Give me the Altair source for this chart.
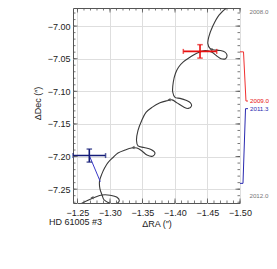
import altair as alt
import pandas as pd

# ---- data ----
track_ra = [-1.4992, -1.4823, -1.4677, -1.4577, -1.4520, -1.4505, -1.4538, -1.4585, -1.4692, -1.4769,
            -1.4800, -1.4777, -1.4708, -1.4638, -1.4569, -1.4462, -1.4334, -1.4231, -1.4128, -1.4054,
            -1.4008, -1.3974, -1.3965, -1.4000, -1.4077, -1.4169, -1.4238, -1.4254, -1.4205, -1.4128,
            -1.4031, -1.3954, -1.3872, -1.3769, -1.3646, -1.3554, -1.3488, -1.3431, -1.3408, -1.3431,
            -1.3523, -1.3631, -1.3692, -1.3654, -1.3569, -1.3492, -1.3415, -1.3331, -1.3231, -1.3123,
            -1.3051, -1.2969, -1.2923, -1.2877, -1.2840, -1.2845, -1.2877, -1.2908, -1.3000, -1.3092,
            -1.3143, -1.3108, -1.3000, -1.2877, -1.2769, -1.2662, -1.2554, -1.2485]
track_dec = [-6.9631, -6.9703, -6.9831, -7.0011, -7.0165, -7.0266, -7.0343, -7.0362, -7.0374, -7.0400,
             -7.0446, -7.0500, -7.0500, -7.0454, -7.0400, -7.0377, -7.0415, -7.0477, -7.0549, -7.0631,
             -7.0723, -7.0857, -7.1011, -7.1092, -7.1108, -7.1138, -7.1177, -7.1223, -7.1262, -7.1238,
             -7.1177, -7.1131, -7.1146, -7.1177, -7.1246, -7.1323, -7.1446, -7.1600, -7.1754, -7.1838,
             -7.1862, -7.1892, -7.1946, -7.1995, -7.1977, -7.1915, -7.1869, -7.1869, -7.1900, -7.1946,
             -7.2011, -7.2092, -7.2165, -7.2262, -7.2369, -7.2492, -7.2585, -7.2662, -7.2715, -7.2723,
             -7.2677, -7.2623, -7.2592, -7.2589, -7.2623, -7.2669, -7.2723, -7.2762]

arrow_ra = [-1.4554, -1.3908, -1.3354, -1.2723]
arrow_dec = [-7.0362, -7.1128, -7.1862, -7.2630]

obs_epoch = ["2009.0", "2011.3"]
obs_ra = [-1.4385, -1.2682]
obs_dec = [-7.0388, -7.1985]
obs_ra_err = [0.0257, 0.0250]
obs_dec_err = [0.0103, 0.0100]
obs_color = ["#e81010", "#141c78"]

# model position at 2011.3 linked to the blue measurement
link_ra = [-1.2682, -1.2851]
link_dec = [-7.1985, -7.2385]

# epoch annotations on the right
conn_red_ra = [-1.5000, -1.5054, -1.5092, -1.5123]
conn_red_dec = [-7.0395, -7.0395, -7.1149, -7.1149]
conn_blue_ra = [-1.5000, -1.5046, -1.5085, -1.5123]
conn_blue_dec = [-7.2411, -7.2411, -7.1266, -7.1266]

epoch_text = ["2008.0", "2009.0", "2011.3", "2012.0"]
epoch_ra = [-1.5146, -1.5154, -1.5154, -1.5146]
epoch_dec = [-6.9723, -7.1149, -7.1266, -7.2600]
epoch_base = ["top", "middle", "middle", "middle"]
epoch_color = ["#777777", "#e81010", "#2a2ab0", "#777777"]

x_major = [-1.25, -1.30, -1.35, -1.40, -1.45, -1.50]
y_major = [-7.00, -7.05, -7.10, -7.15, -7.20, -7.25]
x_minor = [round(-1.25 - 0.01 * i, 2) for i in range(26)]
y_minor = [round(-6.98 - 0.01 * i, 2) for i in range(30)]

W, H = 167, 195
FONT = "Liberation Sans"
xs = alt.Scale(domain=[-1.50, -1.2431], reverse=True, nice=False, zero=False)
ys = alt.Scale(domain=[-7.2712, -6.9723], nice=False, zero=False)

ax_x = alt.Axis(
    values=x_major, format=".2f", title="ΔRA (″)", grid=True, gridColor="#dedede",
    ticks=False, domain=False, labelFontSize=9, labelPadding=5, labelColor="#222",
    labelFont=FONT, titleFont=FONT, titleFontSize=9, titleFontWeight="normal",
    titleColor="#222", titlePadding=2, labelFlush=False)
ax_y = alt.Axis(
    values=y_major, format=".2f", title="ΔDec (″)", grid=True, gridColor="#dedede",
    ticks=False, domain=False, labelFontSize=9, labelPadding=3, labelColor="#222",
    labelFont=FONT, titleFont=FONT, titleFontSize=9, titleFontWeight="normal",
    titleColor="#222", titleX=-36, titleY=95, titleAlign="center",
    titleBaseline="middle", labelFlush=False)


def X(f):
    return alt.X(f, scale=xs, axis=ax_x)


def Y(f):
    return alt.Y(f, scale=ys, axis=ax_y)


track = pd.DataFrame({"ra": track_ra, "dec": track_dec, "i": list(range(len(track_ra)))})

base = alt.Chart(track).mark_line(
    color="#3a3a3a", strokeWidth=1.1, interpolate="catmull-rom", clip=True
).encode(x=X("ra:Q"), y=Y("dec:Q"), order="i:Q")

arrows = alt.Chart(pd.DataFrame({"ra": arrow_ra, "dec": arrow_dec})).mark_point(
    shape="triangle-left", filled=True, size=12, color="#555555", opacity=1, clip=True
).encode(x=X("ra:Q"), y=Y("dec:Q"))

obs = pd.DataFrame({
    "ep": obs_epoch, "ra": obs_ra, "dec": obs_dec,
    "ralo": [a - e for a, e in zip(obs_ra, obs_ra_err)],
    "rahi": [a + e for a, e in zip(obs_ra, obs_ra_err)],
    "declo": [d - e for d, e in zip(obs_dec, obs_dec_err)],
    "dechi": [d + e for d, e in zip(obs_dec, obs_dec_err)],
    "c": obs_color,
})
col = alt.Color("c:N", scale=None)

link = alt.Chart(pd.DataFrame({"ra": link_ra, "dec": link_dec})).mark_line(
    color="#3a3ac8", strokeWidth=1
).encode(x=X("ra:Q"), y=Y("dec:Q"))

hbar = alt.Chart(obs).mark_rule(strokeWidth=1.6).encode(
    x=X("ralo:Q"), x2="rahi:Q", y=Y("dec:Q"), color=col)
vbar = alt.Chart(obs).mark_rule(strokeWidth=1.6).encode(
    x=X("ra:Q"), y=Y("declo:Q"), y2="dechi:Q", color=col)
hcap_lo = alt.Chart(obs).mark_tick(orient="vertical", size=5, thickness=1.5).encode(
    x=X("ralo:Q"), y=Y("dec:Q"), color=col)
hcap_hi = alt.Chart(obs).mark_tick(orient="vertical", size=5, thickness=1.5).encode(
    x=X("rahi:Q"), y=Y("dec:Q"), color=col)
vcap_lo = alt.Chart(obs).mark_tick(orient="horizontal", size=5.5, thickness=1.5).encode(
    x=X("ra:Q"), y=Y("declo:Q"), color=col)
vcap_hi = alt.Chart(obs).mark_tick(orient="horizontal", size=5.5, thickness=1.5).encode(
    x=X("ra:Q"), y=Y("dechi:Q"), color=col)

conn = pd.DataFrame({
    "ra": conn_red_ra + conn_blue_ra,
    "dec": conn_red_dec + conn_blue_dec,
    "g": ["r"] * 4 + ["b"] * 4,
    "o": list(range(4)) * 2,
    "c": ["#f03030"] * 4 + ["#2a2ab0"] * 4,
})
connectors = alt.Chart(conn).mark_line(strokeWidth=1).encode(
    x=X("ra:Q"), y=Y("dec:Q"), detail="g:N", order="o:Q", color=col)

lab_df = pd.DataFrame({"ra": epoch_ra, "dec": epoch_dec, "t": epoch_text,
                       "c": epoch_color, "b": epoch_base})
labels_top = alt.Chart(lab_df[lab_df.b == "top"]).mark_text(
    align="left", baseline="top", fontSize=6.2, font=FONT, dy=1
).encode(x=X("ra:Q"), y=Y("dec:Q"), text="t:N", color=col)
labels_mid = alt.Chart(lab_df[lab_df.b == "middle"]).mark_text(
    align="left", baseline="middle", fontSize=6.2, font=FONT
).encode(x=X("ra:Q"), y=Y("dec:Q"), text="t:N", color=col)


def tick_layer(vals, channel, length, side):
    df = pd.DataFrame({"v": vals})
    m = alt.Chart(df).mark_rule(color="#555555", strokeWidth=0.8)
    if channel == "x":
        y0, y1 = (H, H - length) if side == "bottom" else (0, length)
        return m.encode(x=X("v:Q"), y=alt.value(y0), y2=alt.value(y1))
    x0, x1 = (0, length) if side == "left" else (W, W - length)
    return m.encode(y=Y("v:Q"), x=alt.value(x0), x2=alt.value(x1))


ticks = []
for side in ["bottom", "top"]:
    ticks.append(tick_layer(x_minor, "x", 2.5, side))
    ticks.append(tick_layer(x_major, "x", 4.5, side))
for side in ["left", "right"]:
    ticks.append(tick_layer(y_minor, "y", 2.5, side))
    ticks.append(tick_layer(y_major, "y", 4.5, side))

caption = alt.Chart(pd.DataFrame({"t": ["HD 61005 #3"]})).mark_text(
    align="left", baseline="middle", fontSize=9, font=FONT, color="#222"
).encode(text="t:N", x=alt.value(-24), y=alt.value(214))

chart = alt.layer(
    base, arrows, link, hbar, vbar, hcap_lo, hcap_hi, vcap_lo, vcap_hi,
    connectors, labels_top, labels_mid, caption, *ticks
).properties(
    width=W, height=H,
    autosize=alt.AutoSizeParams(type="none"),
    padding={"left": 65, "top": 0, "right": 29, "bottom": 58},
).configure_view(stroke="#555555", strokeWidth=1)

chart.save("out.html", embed_options={"renderer": "svg", "actions": False})
